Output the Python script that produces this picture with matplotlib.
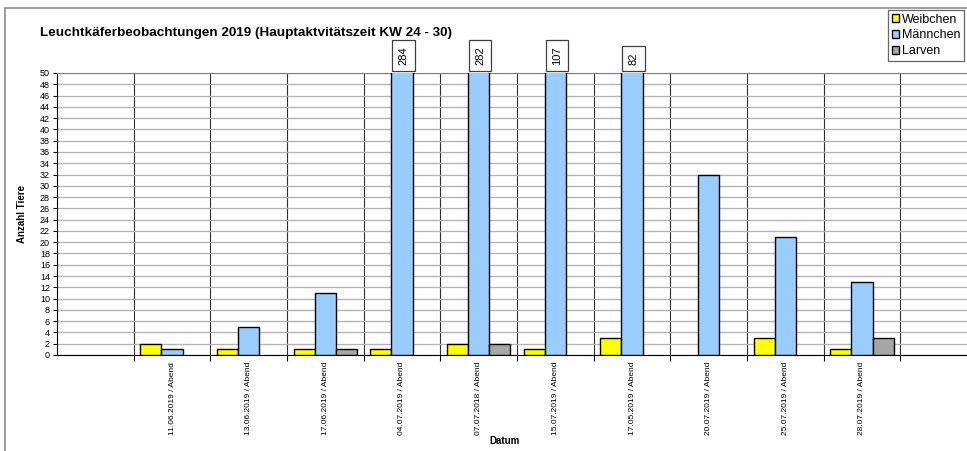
import matplotlib
matplotlib.use("Agg")
import matplotlib.pyplot as plt
import numpy as np
from matplotlib.patches import Rectangle

plt.rcParams['font.family'] = ['Liberation Sans', 'DejaVu Sans']

dates = ["11.06.2019 / Abend", "13.06.2019 / Abend", "17.06.2019 / Abend",
         "04.07.2019 / Abend", "07.07.2018 / Abend", "15.07.2019 / Abend",
         "17.05.2019 / Abend", "20.07.2019 / Abend", "25.07.2019 / Abend",
         "28.07.2019 / Abend"]
weibchen = [2, 1, 1, 1, 2, 1, 3, 0, 3, 1]
maennchen = [1, 5, 11, 284, 282, 107, 82, 32, 21, 13]
larven = [0, 0, 1, 0, 2, 0, 0, 0, 0, 3]
series_names = ["Weibchen", "Männchen", "Larven"]
colors = ["#FFFF00", "#99CCFF", "#A6A6A6"]
ymax = 50

fig = plt.figure(figsize=(9.67, 4.51), dpi=100)
W, H = 967, 451
# outer chart frame
fig.patches.append(Rectangle((5 / W, -0.1), 1.2, 1 - 8 / H + 0.1, transform=fig.transFigure,
                             fill=False, edgecolor="#8c8c8c", linewidth=1.2))

left, right, top, bottom = 57, 977, 73, 355
ax = fig.add_axes([left / W, 1 - bottom / H, (right - left) / W, (bottom - top) / H])

n = len(dates)
x = np.arange(1, n + 1)
bw = 0.274
for i, (vals, c, name) in enumerate(zip([weibchen, maennchen, larven], colors, series_names)):
    v = np.array(vals, dtype=float)
    v[v == 0] = np.nan  # zero values are not drawn
    ax.bar(x + (i - 1) * bw, v, width=bw, color=c, edgecolor="black", linewidth=1.0,
           label=name, zorder=3)

ax.set_xlim(-0.5, n + 1.5)
ax.set_ylim(0, ymax)

# value boxes for clipped bars
for xi, v in zip(x, maennchen):
    if v > ymax:
        ax.annotate(str(v), xy=(xi, ymax), xytext=(xi + 0.02, ymax + 1.5), textcoords='data',
                    rotation=90, ha='center', va='bottom', fontsize=8,
                    annotation_clip=False,
                    bbox=dict(boxstyle='square,pad=0.55', facecolor='white', edgecolor='#404040', linewidth=0.9))

ax.set_yticks(np.arange(0, ymax + 1, 2))
ax.tick_params(axis='y', labelsize=6.5, length=3, width=0.8, direction='out', pad=2)
ax.set_xticks(x)
ax.set_xticklabels(dates, rotation=90, fontsize=6)
ax.tick_params(axis='x', which='major', length=0, pad=5)
ax.set_xticks(np.arange(0.5, n + 1.5, 1), minor=True)
ax.tick_params(axis='x', which='minor', length=4, width=0.8, direction='out')

ax.grid(axis='y', which='major', color='#b4b4b4', linewidth=1.0, zorder=0)
ax.grid(axis='x', which='minor', color='#303030', linewidth=0.8, zorder=1)
ax.set_axisbelow(True)

ax.spines['right'].set_visible(False)
ax.spines['top'].set_color('#808080')
ax.spines['left'].set_color('black')
ax.spines['bottom'].set_color('black')

ax.set_ylabel("Anzahl Tiere", fontsize=7, fontweight='bold', labelpad=9)
fig.text(505 / W, 1 - 441 / H, "Datum", fontsize=7, fontweight='bold', ha='center', va='center')
fig.text(40 / W, 1 - 33 / H, "Leuchtkäferbeobachtungen 2019 (Hauptaktvitätszeit KW 24 - 30)",
         fontsize=9.7, fontweight='bold', ha='left', va='center')

leg = fig.legend(loc='upper left', bbox_to_anchor=(888 / W, 1 - 10 / H), fontsize=9,
                 frameon=True, fancybox=False, edgecolor='#404040', handlelength=0.6,
                 handleheight=0.6, handletextpad=0.2, borderpad=0.3, labelspacing=0.3,
                 borderaxespad=0)
leg.get_frame().set_linewidth(0.9)

fig.savefig("out.png", dpi=100)
